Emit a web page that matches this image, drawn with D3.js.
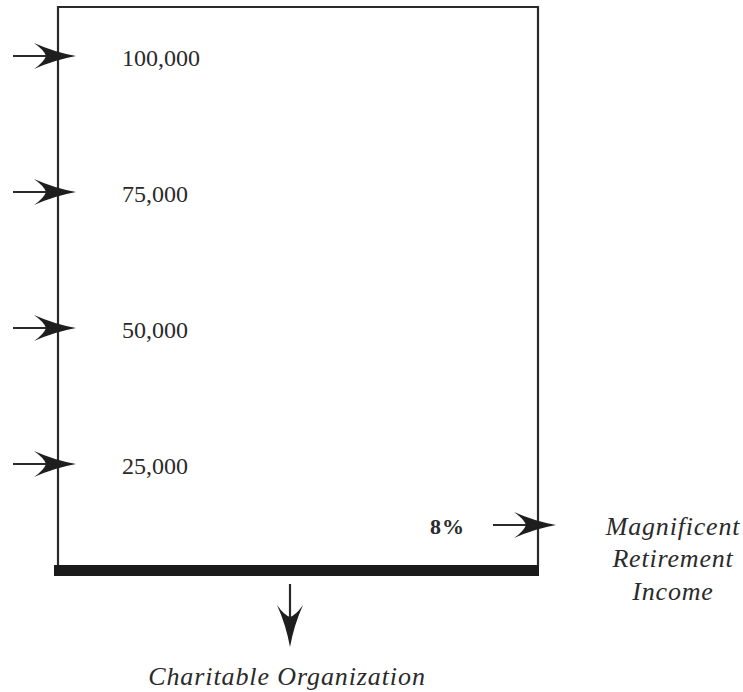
<!DOCTYPE html>
<html><head><meta charset="utf-8">
<script src="https://cdn.jsdelivr.net/npm/d3@7"></script>
<style>body{margin:0;background:#fff}svg{display:block}</style>
</head><body>
<script>
const tickValues = [100000, 75000, 50000, 25000];
const tickLabels = ["100,000", "75,000", "50,000", "25,000"];
const rateLabel = "8%";
const outputLabel = ["Magnificent", "Retirement", "Income"];
const remainderLabel = "Charitable Organization";

const W = 743, H = 692;
const svg = d3.select("body").append("svg").attr("width", W).attr("height", H);
const ink = "#2a2a2a";

const y = d3.scaleLinear().domain([25000, 100000]).range([464, 56]);
const box = {l: 58, r: 538, t: 7, b: 566};

// box outline
svg.append("path")
  .attr("d", `M${box.l},${box.b} L${box.l},${box.t} L${box.r},${box.t} L${box.r},${box.b}`)
  .attr("fill", "none").attr("stroke", ink).attr("stroke-width", 2.2);
// thick bottom bar
svg.append("rect").attr("x", 54).attr("y", box.b - 1).attr("width", box.r - 54 + 1).attr("height", 11).attr("fill", "#1a1a1a");

function arrow(x1, y1, x2, y2) {
  const g = svg.append("g");
  const ang = Math.atan2(y2 - y1, x2 - x1) * 180 / Math.PI;
  const len = Math.hypot(x2 - x1, y2 - y1);
  const a = g.append("g").attr("transform", `translate(${x2},${y2}) rotate(${ang})`);
  a.append("line").attr("x1", -len).attr("y1", 0).attr("x2", -30).attr("y2", 0)
    .attr("stroke", ink).attr("stroke-width", 2.2);
  a.append("path")
    .attr("d", "M0,0 Q-22,-4 -42,-13 Q-32,-6 -30,0 Q-32,6 -42,13 Q-22,4 0,0 Z")
    .attr("fill", "#1e1e1e");
}

// input arrows
tickValues.forEach((v, i) => {
  arrow(13, y(v), 76, y(v));
  svg.append("text").attr("x", 122).attr("y", y(v) + 10)
    .attr("font-family", "Liberation Serif, serif").attr("font-size", 24)
    .attr("fill", ink).text(tickLabels[i]);
});

// rate arrow
arrow(493, 525, 556, 525);
svg.append("text").attr("x", 430).attr("y", 534)
  .attr("font-family", "Liberation Serif, serif").attr("font-size", 22).attr("font-weight", "bold")
  .attr("letter-spacing", 1)
  .attr("fill", ink).text(rateLabel);

const oy = [535, 567, 600];
outputLabel.forEach((t, i) => {
  svg.append("text").attr("x", 673).attr("y", oy[i]).attr("text-anchor", "middle")
    .attr("font-family", "Liberation Serif, serif").attr("font-style", "italic").attr("font-size", 26)
    .attr("letter-spacing", 0.8)
    .attr("fill", ink).text(t);
});

// down arrow
arrow(290, 584, 290, 647);
svg.append("text").attr("x", 287).attr("y", 685).attr("text-anchor", "middle")
  .attr("font-family", "Liberation Serif, serif").attr("font-style", "italic").attr("font-size", 26)
  .attr("letter-spacing", 0.9)
  .attr("fill", ink).text(remainderLabel);
</script>
</body></html>
